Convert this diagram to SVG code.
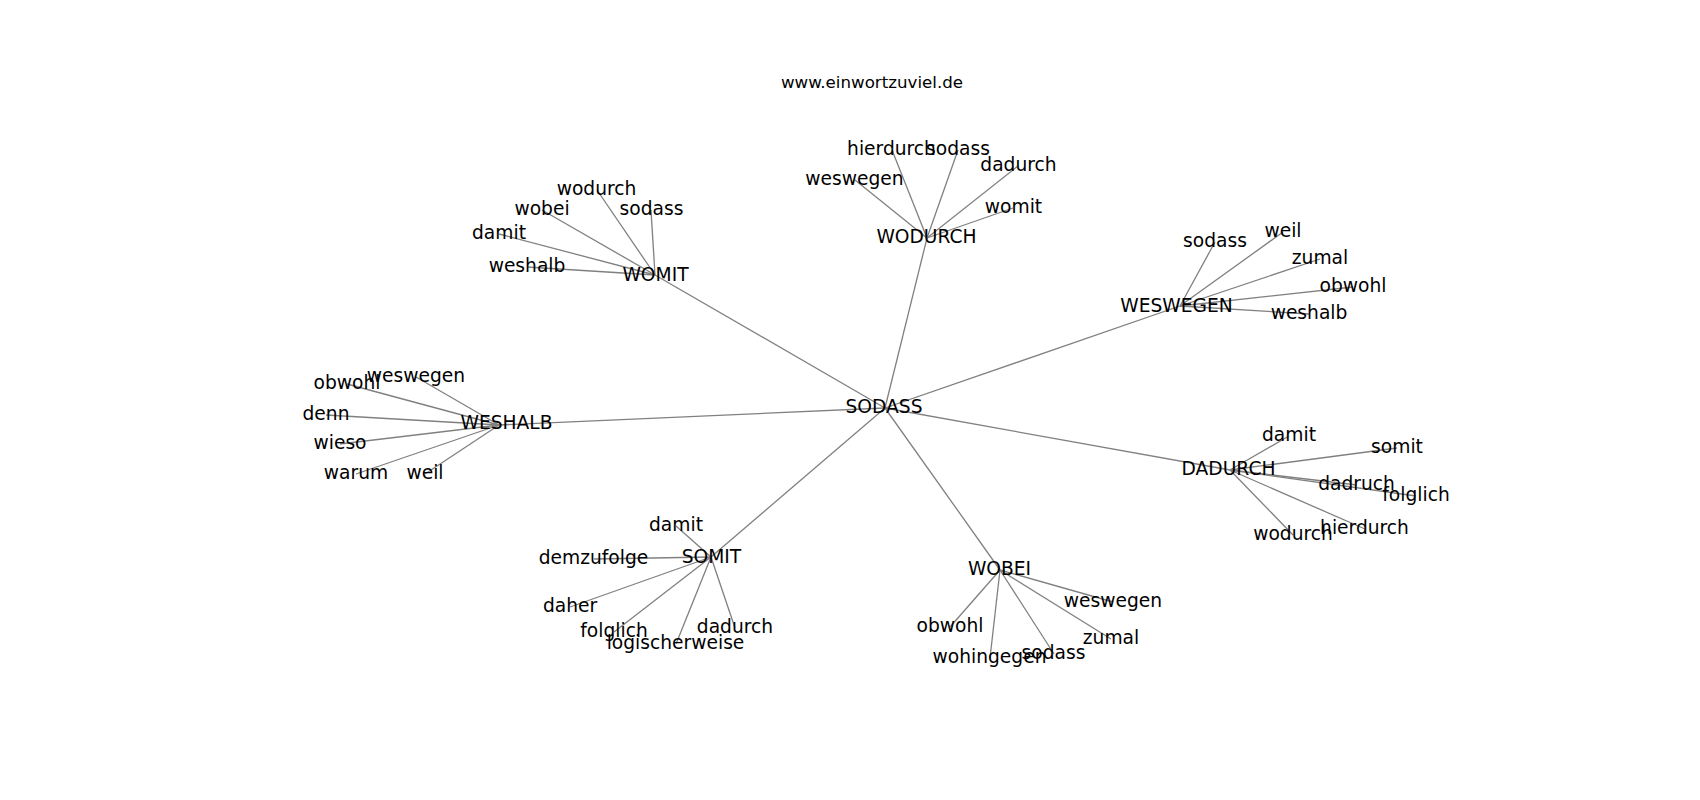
<svg xmlns="http://www.w3.org/2000/svg" width="1700" height="800" viewBox="0 0 1700 800">
<style>
.lbl{font-family:"DejaVu Sans","Liberation Sans",sans-serif;font-size:18.67px;text-anchor:middle;fill:#000}
.title{font-family:"DejaVu Sans","Liberation Sans",sans-serif;font-size:16.67px;text-anchor:middle;fill:#000}
.edges line{stroke:#808080;stroke-width:1.3}
</style>
<rect width="1700" height="800" fill="#fff"/>
<text class="title" x="872" y="88">www.einwortzuviel.de</text>
<g id="connectors" class="edges">
<line x1="885" y1="408" x2="927" y2="238"/>
<line x1="885" y1="408" x2="655" y2="275"/>
<line x1="885" y1="408" x2="1180" y2="306"/>
<line x1="885" y1="408" x2="499" y2="425"/>
<line x1="885" y1="408" x2="1230" y2="470"/>
<line x1="885" y1="408" x2="711" y2="557"/>
<line x1="885" y1="408" x2="1000" y2="570"/>
<line x1="927" y1="238" x2="892" y2="150"/>
<line x1="927" y1="238" x2="958" y2="150"/>
<line x1="927" y1="238" x2="1018" y2="166"/>
<line x1="927" y1="238" x2="855" y2="180"/>
<line x1="927" y1="238" x2="1013" y2="208"/>
<line x1="655" y1="275" x2="597" y2="190"/>
<line x1="655" y1="275" x2="542" y2="210"/>
<line x1="655" y1="275" x2="651" y2="210"/>
<line x1="655" y1="275" x2="499" y2="234"/>
<line x1="655" y1="275" x2="527" y2="267"/>
<line x1="1180" y1="306" x2="1215" y2="242"/>
<line x1="1180" y1="306" x2="1283" y2="232"/>
<line x1="1180" y1="306" x2="1320" y2="259"/>
<line x1="1180" y1="306" x2="1353" y2="287"/>
<line x1="1180" y1="306" x2="1309" y2="314"/>
<line x1="499" y1="425" x2="347" y2="384"/>
<line x1="499" y1="425" x2="416" y2="377"/>
<line x1="499" y1="425" x2="326" y2="415"/>
<line x1="499" y1="425" x2="340" y2="444"/>
<line x1="499" y1="425" x2="356" y2="474"/>
<line x1="499" y1="425" x2="425" y2="474"/>
<line x1="1230" y1="470" x2="1289" y2="436"/>
<line x1="1230" y1="470" x2="1397" y2="448"/>
<line x1="1230" y1="470" x2="1357" y2="485"/>
<line x1="1230" y1="470" x2="1416" y2="496"/>
<line x1="1230" y1="470" x2="1293" y2="535"/>
<line x1="1230" y1="470" x2="1365" y2="529"/>
<line x1="711" y1="557" x2="676" y2="526"/>
<line x1="711" y1="557" x2="594" y2="559"/>
<line x1="711" y1="557" x2="570" y2="607"/>
<line x1="711" y1="557" x2="614" y2="632"/>
<line x1="711" y1="557" x2="676" y2="644"/>
<line x1="711" y1="557" x2="735" y2="628"/>
<line x1="1000" y1="570" x2="950" y2="627"/>
<line x1="1000" y1="570" x2="990" y2="658"/>
<line x1="1000" y1="570" x2="1054" y2="654"/>
<line x1="1000" y1="570" x2="1111" y2="639"/>
<line x1="1000" y1="570" x2="1113" y2="602"/>
</g>
<g id="n-SODASS"><text class="lbl" x="884" y="413">SODASS</text></g>
<g id="n-WODURCH"><text class="lbl" x="926.5" y="243">WODURCH</text></g>
<g id="n-wodurch-hierdurch"><text class="lbl" x="891.5" y="155">hierdurch</text></g>
<g id="n-wodurch-sodass"><text class="lbl" x="958" y="155">sodass</text></g>
<g id="n-wodurch-dadurch"><text class="lbl" x="1018.5" y="171">dadurch</text></g>
<g id="n-wodurch-weswegen"><text class="lbl" x="854.5" y="185">weswegen</text></g>
<g id="n-wodurch-womit"><text class="lbl" x="1013.5" y="213">womit</text></g>
<g id="n-WOMIT"><text class="lbl" x="655.5" y="281">WOMIT</text></g>
<g id="n-womit-wodurch"><text class="lbl" x="596.5" y="195">wodurch</text></g>
<g id="n-womit-wobei"><text class="lbl" x="542" y="215">wobei</text></g>
<g id="n-womit-sodass"><text class="lbl" x="651.5" y="215">sodass</text></g>
<g id="n-womit-damit"><text class="lbl" x="499" y="239">damit</text></g>
<g id="n-womit-weshalb"><text class="lbl" x="527" y="272">weshalb</text></g>
<g id="n-WESWEGEN"><text class="lbl" x="1176.5" y="312">WESWEGEN</text></g>
<g id="n-weswegen-sodass"><text class="lbl" x="1215" y="247">sodass</text></g>
<g id="n-weswegen-weil"><text class="lbl" x="1283" y="237">weil</text></g>
<g id="n-weswegen-zumal"><text class="lbl" x="1320" y="264">zumal</text></g>
<g id="n-weswegen-obwohl"><text class="lbl" x="1353" y="292">obwohl</text></g>
<g id="n-weswegen-weshalb"><text class="lbl" x="1309" y="319">weshalb</text></g>
<g id="n-WESHALB"><text class="lbl" x="506.5" y="429">WESHALB</text></g>
<g id="n-weshalb-obwohl"><text class="lbl" x="347" y="389">obwohl</text></g>
<g id="n-weshalb-weswegen"><text class="lbl" x="416" y="382">weswegen</text></g>
<g id="n-weshalb-denn"><text class="lbl" x="326" y="420">denn</text></g>
<g id="n-weshalb-wieso"><text class="lbl" x="340" y="449">wieso</text></g>
<g id="n-weshalb-warum"><text class="lbl" x="356" y="479">warum</text></g>
<g id="n-weshalb-weil"><text class="lbl" x="425" y="479">weil</text></g>
<g id="n-DADURCH"><text class="lbl" x="1228.5" y="475">DADURCH</text></g>
<g id="n-dadurch-damit"><text class="lbl" x="1289" y="441">damit</text></g>
<g id="n-dadurch-somit"><text class="lbl" x="1397" y="453">somit</text></g>
<g id="n-dadurch-dadruch"><text class="lbl" x="1356.5" y="490">dadruch</text></g>
<g id="n-dadurch-folglich"><text class="lbl" x="1416" y="501">folglich</text></g>
<g id="n-dadurch-wodurch"><text class="lbl" x="1293" y="540">wodurch</text></g>
<g id="n-dadurch-hierdurch"><text class="lbl" x="1364.5" y="534">hierdurch</text></g>
<g id="n-SOMIT"><text class="lbl" x="711.5" y="563">SOMIT</text></g>
<g id="n-somit-damit"><text class="lbl" x="676" y="531">damit</text></g>
<g id="n-somit-demzufolge"><text class="lbl" x="593.5" y="564">demzufolge</text></g>
<g id="n-somit-daher"><text class="lbl" x="570" y="612">daher</text></g>
<g id="n-somit-folglich"><text class="lbl" x="614" y="637">folglich</text></g>
<g id="n-somit-logischerweise"><text class="lbl" x="675.5" y="649">logischerweise</text></g>
<g id="n-somit-dadurch"><text class="lbl" x="735" y="633">dadurch</text></g>
<g id="n-WOBEI"><text class="lbl" x="999.5" y="575">WOBEI</text></g>
<g id="n-wobei-obwohl"><text class="lbl" x="950" y="632">obwohl</text></g>
<g id="n-wobei-wohingegen"><text class="lbl" x="989.5" y="663">wohingegen</text></g>
<g id="n-wobei-sodass"><text class="lbl" x="1053.5" y="659">sodass</text></g>
<g id="n-wobei-zumal"><text class="lbl" x="1111" y="644">zumal</text></g>
<g id="n-wobei-weswegen"><text class="lbl" x="1113" y="607">weswegen</text></g>
</svg>
